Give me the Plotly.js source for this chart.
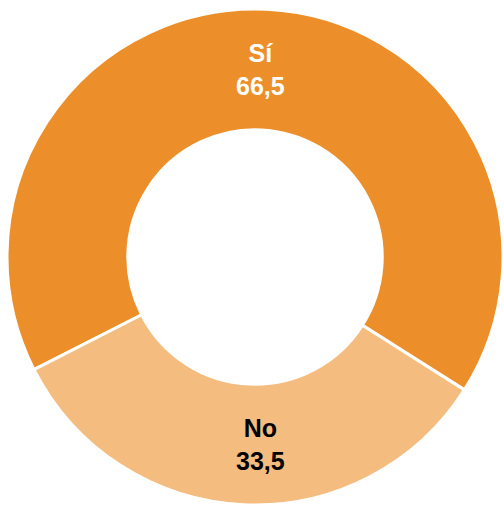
<!DOCTYPE html>
<html><head><meta charset="utf-8">
<script src="https://cdn.plot.ly/plotly-3.0.1.min.js"></script>
<style>html,body{margin:0;padding:0;background:#fff;}#chart{width:504px;height:505px;}</style>
</head><body><div id="chart"></div>
<script>
const labels = ["Sí", "No"];
const values = [66.5, 33.5];
const colors = ["#EC8F2A", "#F4BC7E"];
const textColors = ["#FFFFFF", "#000000"];

const HOLE = 0.513;
const ROT = 243;
const total = values.reduce((a, b) => a + b, 0);

// label positions derived from slice mid-angles (paper coords, pie domain = full plot area)
let start = ROT;
const annotations = values.map((v, i) => {
  const span = v / total * 360;
  const mid = (start + span / 2) * Math.PI / 180;
  start += span;
  const rMid = (HOLE + 1) / 2 * 0.5; // fraction of plot height
  return {
    xref: "paper", yref: "paper",
    x: 0.5, y: 0.5 + rMid * Math.cos(mid),
    xanchor: "center", yanchor: "middle",
    xshift: 5,
    text: "<b>" + labels[i] + "<br>" + v.toFixed(1).replace(".", ",") + "</b>",
    showarrow: false,
    font: {family: "Liberation Sans, Arial, sans-serif", size: 25, color: textColors[i]},
    align: "center"
  };
});

Plotly.newPlot("chart", [{
  type: "pie",
  labels: labels,
  values: values,
  sort: false,
  direction: "clockwise",
  rotation: ROT,
  hole: HOLE,
  marker: {colors: colors, line: {color: "#FFFFFF", width: 3}},
  textinfo: "none",
  hoverinfo: "none"
}], {
  width: 504, height: 505,
  margin: {l: 7, r: 1, t: 9, b: 0},
  showlegend: false,
  paper_bgcolor: "#FFFFFF",
  annotations: annotations
}, {displayModeBar: false, staticPlot: true});
</script></body></html>
